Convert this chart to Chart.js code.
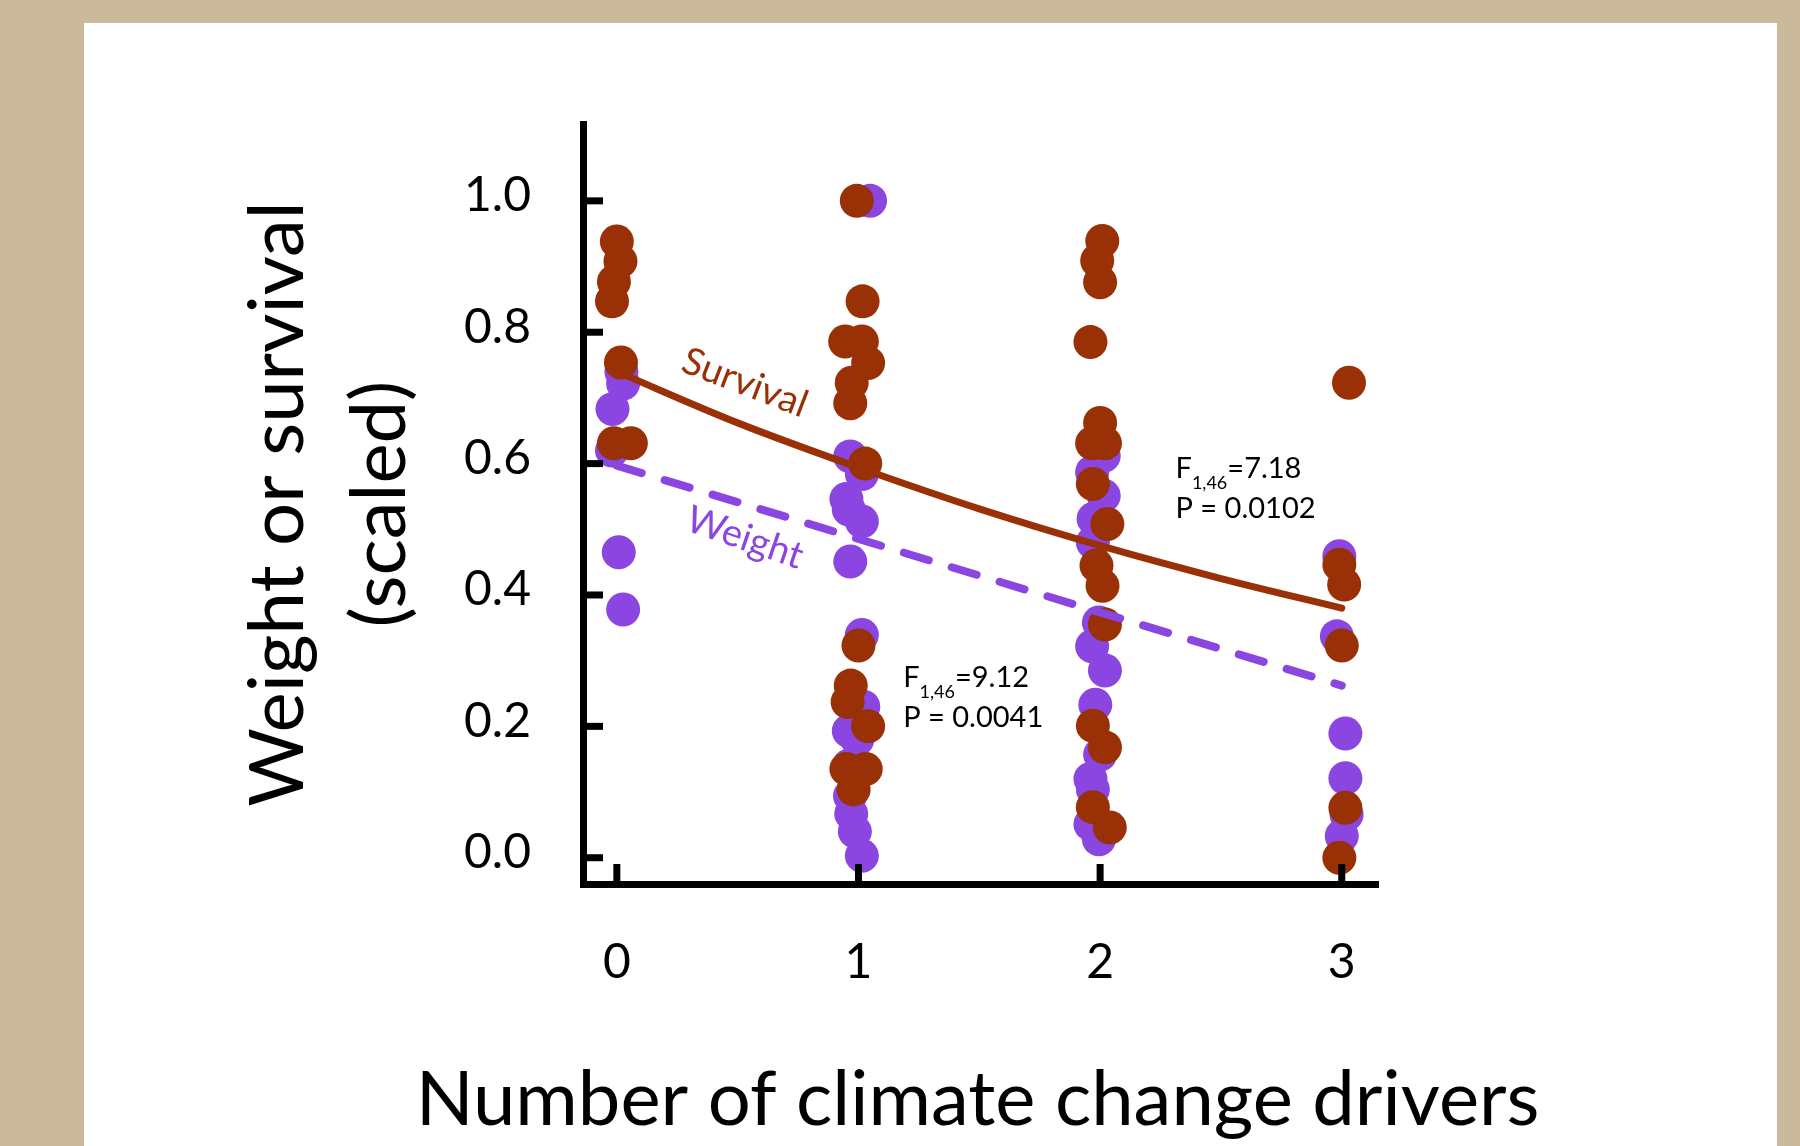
<!DOCTYPE html>
<html lang="en">
<head>
<meta charset="UTF-8" />
<title>Weight or survival vs number of climate change drivers</title>
<script src="https://cdn.jsdelivr.net/npm/chart.js"></script>
<style>
  html, body { margin: 0; padding: 0; }
  body { width: 1800px; height: 1146px; background: #cab99a; position: relative; overflow: hidden; }
  .panel { position: absolute; left: 84px; top: 23px; width: 1693px; height: 1123px; background: #fff; }
  canvas { display: block; }
</style>
</head>
<body>
<div class="panel"><canvas id="chart" width="1693" height="1123"></canvas></div>
<script>
const FONT = 'Lato, "Open Sans", sans-serif';
const BROWN = '#9a3006';
const PURPLE = '#8b46e2';

const driverTicks = [0, 1, 2, 3];
const yTicks = [0, 0.2, 0.4, 0.6, 0.8, 1.0];
const yTickLabels = ['0.0', '0.2', '0.4', '0.6', '0.8', '1.0'];
const xTitle = 'Number of climate change drivers';
const yTitle = ['Weight or survival', '(scaled)'];

// survival (brown dots), jittered around each driver count
const survivalX = [
  0.0, 0.015, -0.012, -0.02, 0.017, -0.012, 0.058,
  0.993, 1.017, 0.945, 1.014, 1.04, 0.972, 0.966, 1.028, 1.0, 0.968, 0.955, 1.04, 0.95, 1.03, 0.98,
  2.009, 1.988, 2.0, 1.96, 2.0, 1.967, 2.02, 1.97, 2.03, 1.985, 2.01, 2.02, 1.97, 2.02, 1.97, 2.04,
  3.03, 2.99, 3.01, 3.0, 3.015, 2.99
];
const survivalY = [
  0.938, 0.908, 0.877, 0.847, 0.754, 0.631, 0.631,
  1.0, 0.847, 0.786, 0.786, 0.753, 0.723, 0.692, 0.600, 0.323, 0.262, 0.237, 0.2, 0.135, 0.135, 0.104,
  0.939, 0.909, 0.876, 0.785, 0.662, 0.631, 0.631, 0.569, 0.508, 0.445, 0.414, 0.355, 0.201, 0.168, 0.077, 0.046,
  0.723, 0.446, 0.416, 0.323, 0.076, 0.0
];

// weight (purple dots)
const weightX = [
  0.019, 0.026, -0.018, -0.02, 0.008, 0.026,
  1.048, 0.966, 1.014, 0.95, 0.96, 1.014, 0.966, 1.014, 1.02, 0.96, 0.995, 0.96, 0.965, 0.97, 0.985, 1.014,
  2.015, 1.967, 2.015, 1.973, 1.97, 1.995, 1.967, 2.02, 1.98, 2.0, 1.96, 1.97, 1.96, 1.995,
  2.99, 2.98, 3.015, 3.015, 3.02, 3.0
];
const weightY = [
  0.740, 0.722, 0.683, 0.62, 0.465, 0.378,
  1.0, 0.611, 0.584, 0.546, 0.530, 0.512, 0.451, 0.339, 0.23, 0.193, 0.18, 0.14, 0.094, 0.067, 0.04, 0.003,
  0.612, 0.587, 0.551, 0.516, 0.48, 0.358, 0.322, 0.285, 0.233, 0.157, 0.12, 0.104, 0.051, 0.028,
  0.459, 0.337, 0.189, 0.121, 0.066, 0.033
];

// fitted lines
const survivalFitX = [0, 0.5, 1, 1.5, 2, 2.5, 3];
const survivalFitY = [0.74, 0.662, 0.594, 0.531, 0.475, 0.425, 0.38];
const weightFitX = [0, 3];
const weightFitY = [0.597, 0.262];

const toPoints = (xs, ys) => xs.map((x, i) => ({ x, y: ys[i] }));

// tick marks point inward, drawn on top of the dots
const innerTicks = {
  id: 'innerTicks',
  afterDatasetsDraw(chart) {
    const { ctx, chartArea, scales: { x, y } } = chart;
    ctx.save();
    ctx.strokeStyle = '#000';
    ctx.lineWidth = 7;
    yTicks.forEach(v => {
      const py = y.getPixelForValue(v);
      ctx.beginPath();
      ctx.moveTo(chartArea.left, py);
      ctx.lineTo(chartArea.left + 20, py);
      ctx.stroke();
    });
    driverTicks.forEach(v => {
      const px = x.getPixelForValue(v);
      ctx.beginPath();
      ctx.moveTo(px, chartArea.bottom);
      ctx.lineTo(px, chartArea.bottom - 20);
      ctx.stroke();
    });
    ctx.restore();
  }
};

const labels = {
  id: 'labels',
  afterDatasetsDraw(chart) {
    const { ctx, chartArea, scales: { x, y } } = chart;

    // x axis title is wider than the axis, so it is drawn here instead of by the scale
    ctx.save();
    ctx.font = `76px ${FONT}`;
    ctx.fillStyle = '#000';
    ctx.textAlign = 'center';
    ctx.textBaseline = 'alphabetic';
    ctx.fillText(xTitle, (chartArea.left + chartArea.right) / 2 - 3, chartArea.bottom + 241);
    ctx.restore();

    const rotated = (text, xv, yv, deg, color) => {
      ctx.save();
      ctx.translate(x.getPixelForValue(xv), y.getPixelForValue(yv));
      ctx.rotate(deg * Math.PI / 180);
      ctx.font = `38px ${FONT}`;
      ctx.fillStyle = color;
      ctx.textAlign = 'center';
      ctx.textBaseline = 'middle';
      ctx.fillText(text, 0, 0);
      ctx.restore();
    };
    rotated('Survival', 0.53, 0.723, 21, BROWN);
    rotated('Weight', 0.53, 0.487, 19, PURPLE);

    const stats = (xv, yv, fval, pval) => {
      const px = x.getPixelForValue(xv);
      const py = y.getPixelForValue(yv);
      ctx.save();
      ctx.fillStyle = '#000';
      ctx.textAlign = 'left';
      ctx.textBaseline = 'alphabetic';
      ctx.font = `29px ${FONT}`;
      ctx.fillText('F', px, py);
      const fw = ctx.measureText('F').width;
      ctx.font = `18px ${FONT}`;
      ctx.fillText('1,46', px + fw, py + 11);
      const sw = ctx.measureText('1,46').width;
      ctx.font = `29px ${FONT}`;
      ctx.fillText('=' + fval, px + fw + sw, py);
      ctx.fillText('P = ' + pval, px, py + 40);
      ctx.restore();
    };
    stats(2.312, 0.578, '7.18', '0.0102');
    stats(1.185, 0.26, '9.12', '0.0041');
  }
};

new Chart(document.getElementById('chart'), {
  type: 'scatter',
  data: {
    datasets: [
      {
        type: 'line',
        label: 'Weight fit',
        data: toPoints(weightFitX, weightFitY),
        borderColor: PURPLE,
        borderWidth: 8,
        borderDash: [26, 24],
        borderCapStyle: 'round',
        pointRadius: 0,
        fill: false,
        order: 0
      },
      {
        type: 'line',
        label: 'Survival fit',
        data: toPoints(survivalFitX, survivalFitY),
        borderColor: BROWN,
        borderWidth: 7,
        borderCapStyle: 'round',
        cubicInterpolationMode: 'monotone',
        pointRadius: 0,
        fill: false,
        order: 1
      },
      {
        label: 'Survival',
        data: toPoints(survivalX, survivalY),
        backgroundColor: BROWN,
        borderWidth: 0,
        pointRadius: 17,
        order: 2
      },
      {
        label: 'Weight',
        data: toPoints(weightX, weightY),
        backgroundColor: PURPLE,
        borderWidth: 0,
        pointRadius: 17,
        order: 3
      }
    ]
  },
  options: {
    responsive: false,
    animation: false,
    clip: false,
    layout: { padding: { left: 0, right: 399, top: 101, bottom: 0 } },
    plugins: {
      legend: { display: false },
      tooltip: { enabled: false }
    },
    scales: {
      x: {
        type: 'linear',
        min: -0.14,
        max: 3.15,
        afterBuildTicks: s => { s.ticks = driverTicks.map(v => ({ value: v })); },
        afterFit: s => { s.height = 262; },
        grid: { display: false },
        border: { display: true, color: '#000', width: 7 },
        ticks: {
          color: '#000',
          font: { family: FONT, size: 48 },
          padding: 42,
          callback: v => String(v)
        },
        title: { display: false }
      },
      y: {
        type: 'linear',
        min: -0.04,
        max: 1.117,
        afterBuildTicks: s => { s.ticks = yTicks.map(v => ({ value: v })); },
        afterFit: s => { s.width = 499; },
        grid: { display: false },
        border: { display: true, color: '#000', width: 7 },
        ticks: {
          color: '#000',
          font: { family: FONT, size: 48 },
          padding: 44,
          labelOffset: -5,
          callback: v => yTickLabels[yTicks.indexOf(v)]
        },
        title: {
          display: true,
          text: yTitle,
          color: '#000',
          font: { family: FONT, size: 76, lineHeight: 1.34 },
          padding: { top: 144, bottom: 0 }
        }
      }
    }
  },
  plugins: [innerTicks, labels]
});
</script>
</body>
</html>
